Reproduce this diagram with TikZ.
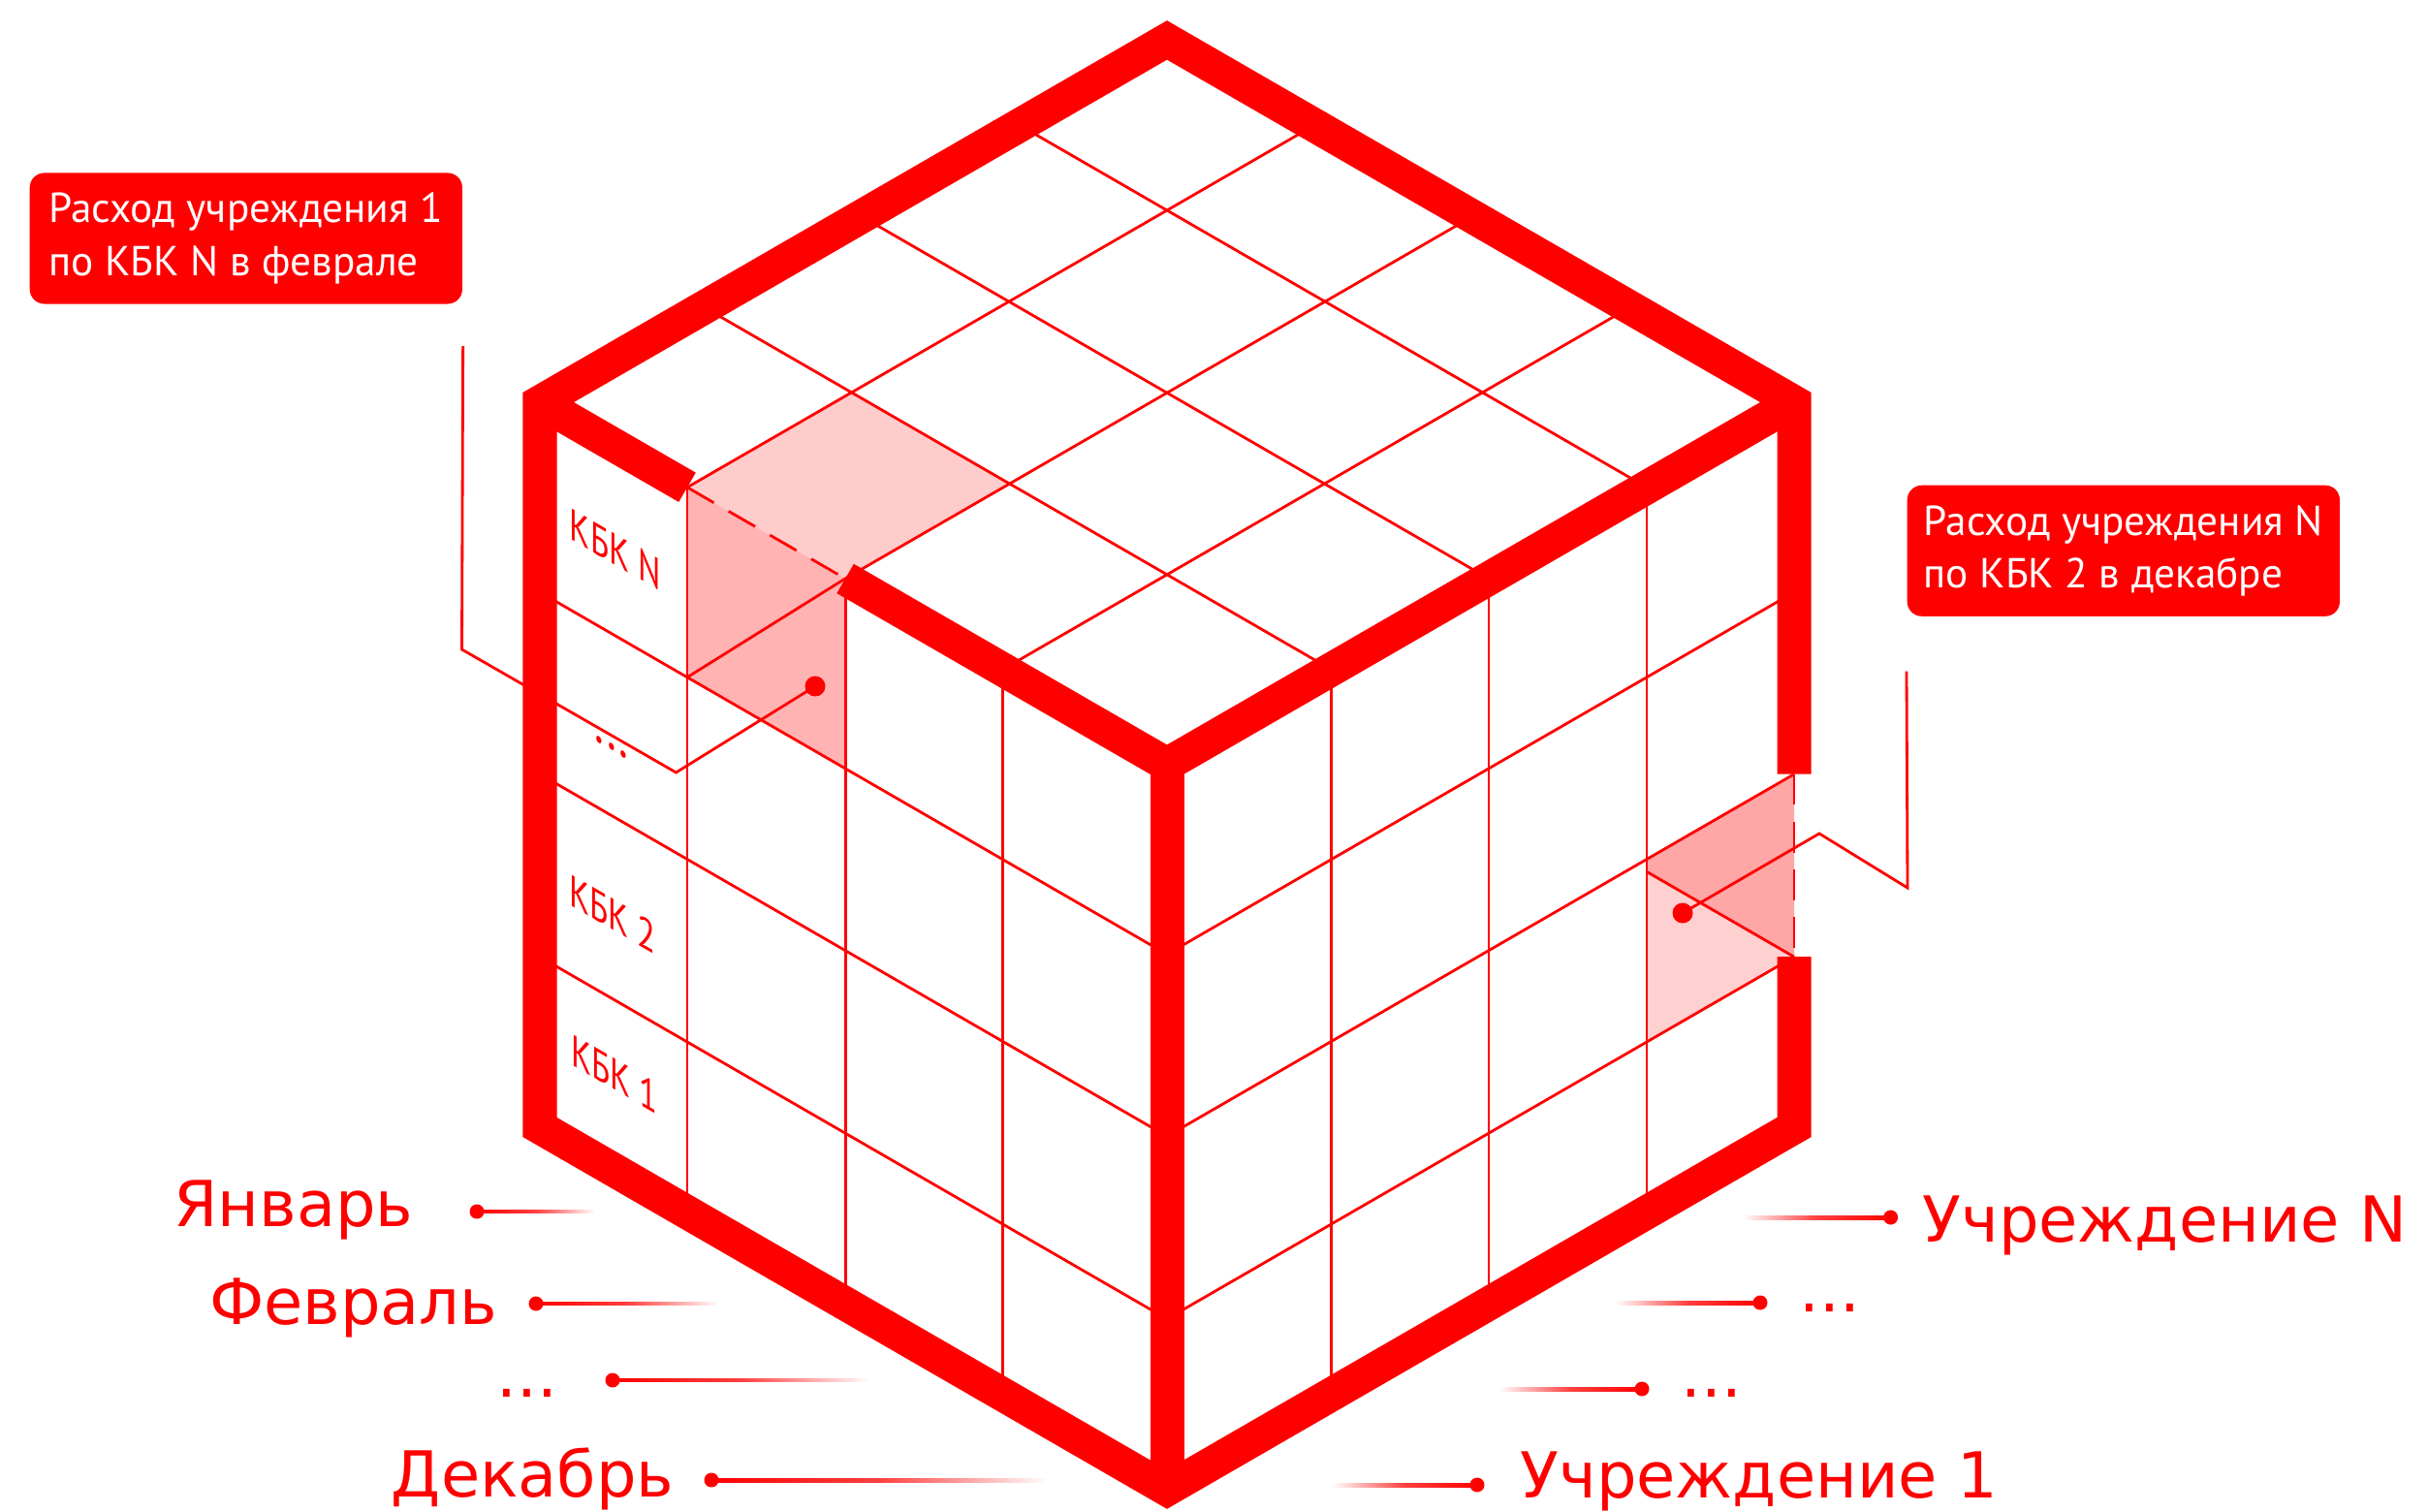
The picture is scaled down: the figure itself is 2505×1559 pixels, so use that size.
\documentclass[tikz,border=0pt]{standalone}
\usepackage{fontspec}
\usepackage{tikz}
\usetikzlibrary{calc}
\newfontfamily\boxfont{PT Sans}
\newfontfamily\axisfont{DejaVu Sans}
\definecolor{cubered}{HTML}{FF0000}
\definecolor{softpink}{HTML}{FFCCCC}
\definecolor{midpink}{HTML}{FFB3B3}
\definecolor{deeppink}{HTML}{FFA6A6}
\definecolor{palepink}{HTML}{FFD0D0}

\begin{document}
\begin{tikzpicture}[
    x=0.01cm, y=-0.01cm,
    edge/.style={draw=cubered, line width=0.35cm},
    grid/.style={draw=cubered, line width=0.8pt},
    gap/.style={draw=cubered, line width=0.8pt, dash pattern=on 9pt off 5pt},
    lead/.style={draw=cubered, line width=0.8pt},
    callout/.style={fill=cubered, text=white, rounded corners=0.15cm, minimum width=4.46cm, minimum height=1.35cm, inner xsep=0.16cm, align=left, font=\boxfont\fontsize{12.3}{15.4}\selectfont},
    kbk/.style={text=cubered, inner sep=0pt, cm={0.76,-0.44,0,1,(0,0)}, font=\boxfont\fontsize{13}{15}\selectfont},
    axis/.style={text=cubered, inner sep=0pt, font=\axisfont\fontsize{18.6}{22}\selectfont},
    dot/.style={circle, fill=cubered, inner sep=0pt, minimum size=0.15cm},
    celldot/.style={circle, fill=cubered, inner sep=0pt, minimum size=0.21cm},
    fadeR/.style={left color=cubered, right color=white, middle color=cubered!75},
    fadeL/.style={left color=white, right color=cubered, middle color=cubered!75}
  ]
  \useasboundingbox (0,0) rectangle (2505,1559);

  \coordinate (T) at (1204,41.4);
  \coordinate (L) at (557,415);
  \coordinate (R) at (1851,415);
  \coordinate (C) at (1204,788.6);
  \coordinate (BL) at (557,1163);
  \coordinate (BR) at (1851,1163);
  \coordinate (B) at (1204,1536.6);

  \coordinate (p1) at ($(C)!0.765!(L)$);
  \coordinate (p2) at ($(C)!0.513!(L)$);
  \coordinate (p3) at ($(p2)+0.262*(647,-373.6)$);
  \coordinate (p4) at ($(p1)+0.262*(647,-373.6)$);
  \coordinate (q3) at ($(p2)+(0,196)$);
  \coordinate (q4) at ($(p1)+(0,196)$);
  \coordinate (s0) at ($(C)!0.765!(R)$);
  \coordinate (s1) at ($(s0)+(0,383.7)$);
  \coordinate (s2) at ($(R)+(0,383.7)$);
  \coordinate (s3) at ($(R)+(0,572.2)$);
  \coordinate (s4) at ($(s1)+(0,188.5)$);
  \coordinate (rd) at ($(s3)+(-152,-87.8)$);

  \fill[softpink] (p1) -- (p4) -- (p3) -- (p2) -- cycle;
  \fill[midpink] (p1) -- (p2) -- (q3) -- (q4) -- cycle;
  \fill[deeppink] (s1) -- (s2) -- (s3) -- (rd) -- cycle;
  \fill[palepink] (rd) -- (s3) -- (s4) -- cycle;

  \foreach \f in {0.262,0.513,0.765} {
    \draw[grid] ($(C)!\f!(L)$) -- ($(R)!\f!(T)$);
    \draw[grid] ($(C)!\f!(R)$) -- ($(L)!\f!(T)$);
    \draw[grid] ($(C)!\f!(L)$) -- ($(B)!\f!(BL)$);
    \draw[grid] ($(L)!\f!(BL)$) -- ($(C)!\f!(B)$);
    \draw[grid] ($(C)!\f!(R)$) -- ($(B)!\f!(BR)$);
    \draw[grid] ($(C)!\f!(B)$) -- ($(R)!\f!(BR)$);
  }
  \draw[grid] (q4) -- (p2);
  \draw[grid] (rd) -- (s3);
  \draw[gap] (p1) -- (p2);
  \draw[gap] (s2) -- (s3);

  \draw[edge] (s3) -- (BR) -- (B) -- (BL) -- (L) -- (T) -- (R) -- (s2);
  \draw[edge] (L) -- (p1);
  \draw[edge] (p2) -- (C) -- (R);
  \draw[edge] (C) -- (B);

  \node[kbk] (kbkN) at (635,567) {КБК N};
  \node[kbk, font=\boxfont\fontsize{17}{17}\selectfont] (kbkD) at (631,771) {...};
  \node[kbk] (kbk2) at (632,943) {КБК 2};
  \node[kbk] (kbk1) at (634,1108) {КБК 1};

  \node[callout, anchor=north west] (boxA) at (30,177.7) {Расход учреждения 1\\по КБК N в феврале};
  \node[callout, anchor=north west] (boxB) at (1967,500) {Расход учреждения N\\по КБК 2 в декабре};
  \node[celldot] (cellA) at (841,708) {};
  \node[celldot] (cellB) at (1736,942) {};
  \coordinate (la1) at ($(boxA.south east)+(0,43)$);
  \coordinate (la2) at (476.5,670);
  \coordinate (la3) at (697.5,797);
  \coordinate (lb1) at ($(boxB.south west)+(0,56)$);
  \coordinate (lb2) at (1968,916);
  \coordinate (lb3) at (1877,860);
  \draw[lead] (la1) -- (la2) -- (la3) -- (cellA.center);
  \draw[lead] (lb1) -- (lb2) -- (lb3) -- (cellB.center);

  \node[axis, anchor=base east] (jan-t) at (427,1265) {Январь};
  \node[axis, anchor=base east] (feb-t) at (514,1366) {Февраль};
  \node[axis, anchor=base west] (mid-t) at (512,1441) {...};
  \node[axis, anchor=base east] (dec-t) at (696,1544) {Декабрь};
  \node[dot] (jan) at (492,1250) {};
  \node[dot] (feb) at (553,1345) {};
  \node[dot] (mid) at (632,1424) {};
  \node[dot] (dec) at (734,1527) {};
  \coordinate (jan-e) at (614,1249);
  \coordinate (feb-e) at (742,1344);
  \coordinate (mid-e) at (897,1423);
  \coordinate (dec-e) at (1081,1527);
  \shade[fadeR] ($(jan)+(0,-2)$) rectangle ($(jan-e)+(0,2)$);
  \shade[fadeR] ($(feb)+(0,-2)$) rectangle ($(feb-e)+(0,2)$);
  \shade[fadeR] ($(mid)+(0,-2)$) rectangle ($(mid-e)+(0,2)$);
  \shade[fadeR] ($(dec)+(0,-2)$) rectangle ($(dec-e)+(0,2)$);

  \node[axis, anchor=base west] (unN-t) at (1983,1281) {Учреждение N};
  \node[axis, anchor=base west] (unA-t) at (1856,1353) {...};
  \node[axis, anchor=base west] (unB-t) at (1734,1441) {...};
  \node[axis, anchor=base west] (un1-t) at (1568,1545) {Учреждение 1};
  \node[dot] (unN) at (1950.6,1256) {};
  \node[dot] (unA) at (1816,1344) {};
  \node[dot] (unB) at (1694,1433) {};
  \node[dot] (un1) at (1524,1532) {};
  \coordinate (unN-s) at (1798,1256);
  \coordinate (unA-s) at (1666,1344);
  \coordinate (unB-s) at (1546,1433);
  \coordinate (un1-s) at (1374,1532);
  \shade[fadeL] ($(unN-s)+(0,-2)$) rectangle ($(unN)+(0,2)$);
  \shade[fadeL] ($(unA-s)+(0,-2)$) rectangle ($(unA)+(0,2)$);
  \shade[fadeL] ($(unB-s)+(0,-2)$) rectangle ($(unB)+(0,2)$);
  \shade[fadeL] ($(un1-s)+(0,-2)$) rectangle ($(un1)+(0,2)$);
\end{tikzpicture}
\end{document}
